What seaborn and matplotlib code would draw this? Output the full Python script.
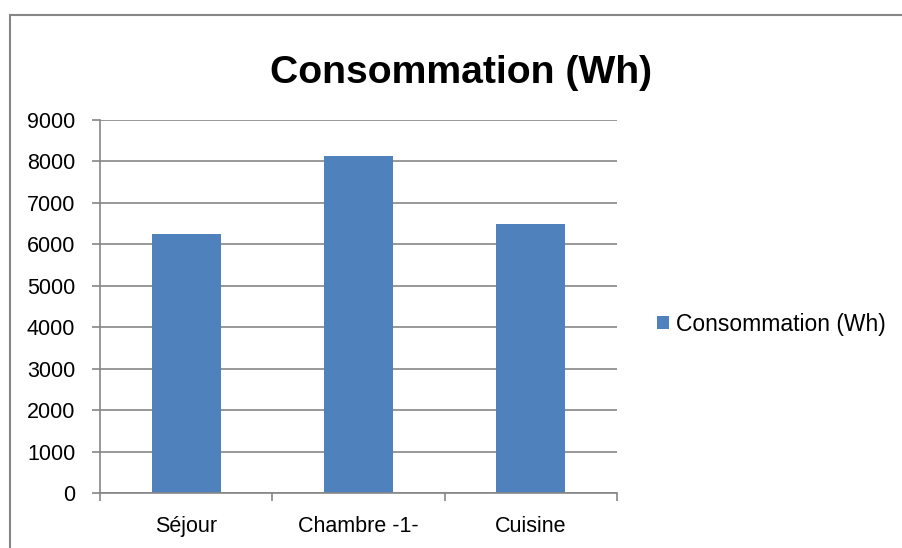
import matplotlib
matplotlib.use("Agg")
import matplotlib.pyplot as plt
import seaborn as sns
import pandas as pd
from matplotlib.patches import Rectangle

categories = ["Séjour", "Chambre -1-", "Cuisine"]
values = [6260, 8120, 6500]
series_name = "Consommation (Wh)"
yticks = [0, 1000, 2000, 3000, 4000, 5000, 6000, 7000, 8000, 9000]

df = pd.DataFrame({"cat": categories, "val": values, "serie": [series_name] * len(categories)})

sns.set_theme(style="white")
plt.rcParams["font.family"] = ["Liberation Sans", "DejaVu Sans"]
plt.rcParams["text.color"] = "black"

W, H = 903, 548
fig = plt.figure(figsize=(W / 100, H / 100), dpi=100)
ax = fig.add_axes([100 / W, (H - 493) / H, 517 / W, 373 / H])

grid_c = "#868686"
fs = 15.5
sns.barplot(data=df, x="cat", y="val", hue="serie", palette=["#4F81BD"],
            width=0.4, ax=ax, edgecolor="none", saturation=1, legend=True)

ax.set_ylim(0, 9000)
ax.set_xlim(-0.5, 2.5)
ax.set_yticks(yticks)
ax.set_yticklabels([str(t) for t in yticks], fontsize=fs, color="black")
ax.yaxis.grid(True, color=grid_c, linewidth=1.2)
ax.set_axisbelow(True)
ax.set_xticks([-0.5, 0.5, 1.5, 2.5])
ax.set_xticklabels([])
ax.set_xticks([0, 1, 2], minor=True)
ax.set_xticklabels(categories, minor=True, fontsize=fs, color="black")
ax.tick_params(axis="x", which="major", direction="out", length=5.5, color=grid_c, width=1.2, bottom=True)
ax.tick_params(axis="x", which="minor", length=0, pad=16.5, bottom=True)
ax.tick_params(axis="y", direction="out", length=5.8, color=grid_c, width=1.2, pad=12, left=True)
ax.set_xlabel("")
ax.set_ylabel("")
for s in ["top", "right"]:
    ax.spines[s].set_visible(False)
for s in ["left", "bottom"]:
    ax.spines[s].set_color(grid_c)
    ax.spines[s].set_linewidth(1.2)

fig.text(461 / W, (H - 83) / H, "Consommation (Wh)", ha="center", va="baseline",
         fontsize=28.2, fontweight="bold", color="black")

leg = ax.legend(loc="center left", bbox_to_anchor=(657 / W, (H - 324) / H),
                bbox_transform=fig.transFigure, frameon=False, fontsize=16.5,
                handlelength=0.52, handleheight=0.52, handletextpad=0.3,
                borderpad=0, borderaxespad=0, labelcolor="black")

fig.add_artist(Rectangle((10 / W, -0.2), 1.2, (H - 15) / H + 0.2, transform=fig.transFigure,
                         fill=False, edgecolor=grid_c, linewidth=1.5))

fig.savefig("out.png", dpi=100)
